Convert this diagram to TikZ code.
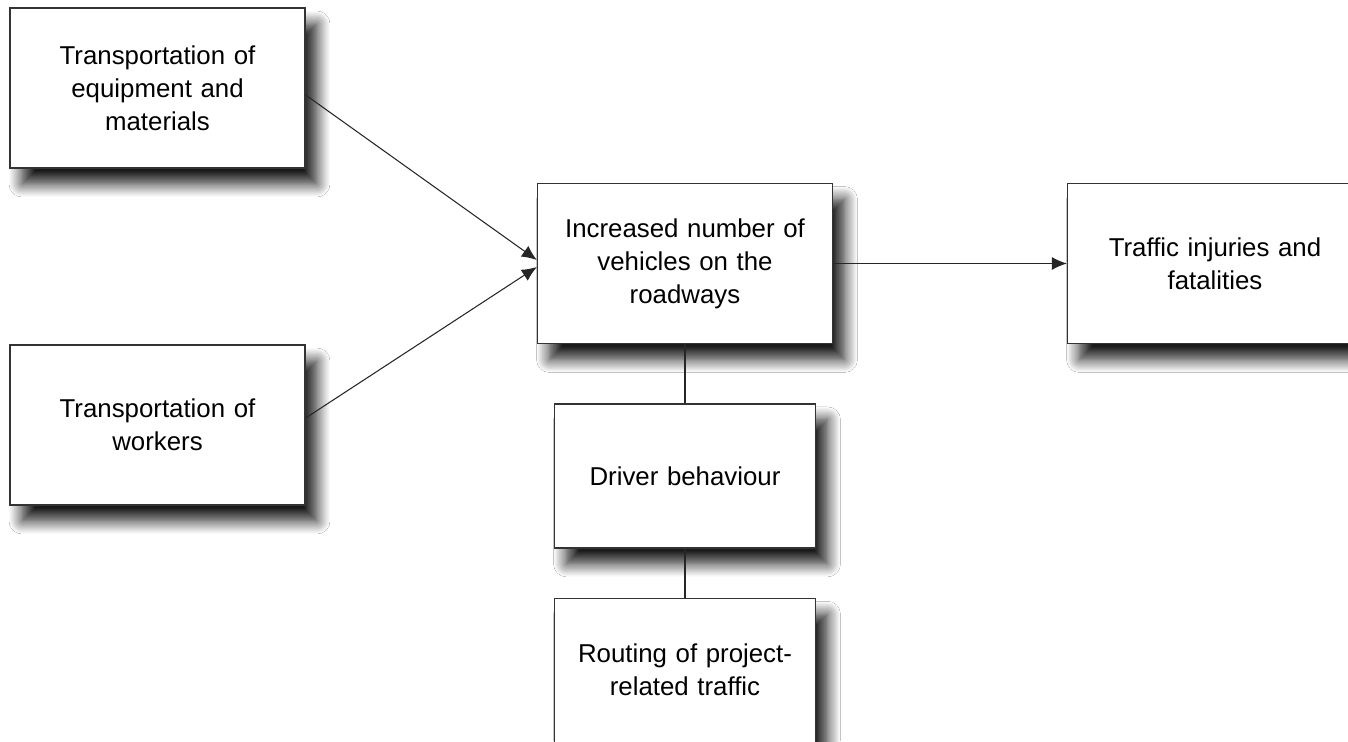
\documentclass[tikz,border=0pt]{standalone}
\usepackage{fontspec}
\setmainfont{Liberation Sans}
\usetikzlibrary{positioning}
\usetikzlibrary{arrows.meta}
\usetikzlibrary{shadows.blur}

\tikzset{
  box/.style={draw=black!80, line width=0.8pt, fill=white, align=center,
    inner sep=0pt, font=\fontsize{14.7}{18.8}\selectfont,
    blur shadow={shadow xshift=2.4mm, shadow yshift=-3.2mm,
      shadow blur radius=2.6mm, shadow blur steps=12, shadow opacity=90}},
  bigbox/.style={box, minimum width=5.9cm, minimum height=3.2cm, text width=5.2cm},
  smallbox/.style={box, minimum width=5.22cm, minimum height=2.88cm, text width=4.8cm},
  link/.style={draw=black!85, line width=0.6pt},
}

\begin{document}
\begin{tikzpicture}[x=0.02cm, y=-0.02cm]
    \fill[white] (0,0) rectangle (1348,741);
    \useasboundingbox (0,0) rectangle (1348,741);

    \node[bigbox] (equip) at (157.5,88) {Transportation of\\ equipment and\\ materials};
    \node[bigbox] (workers) at (157.5,425) {Transportation of\\ workers};
    \node[bigbox] (vehicles) at (685,263.5) {Increased number of\\ vehicles on the\\ roadways};
    \node[bigbox] (injuries) at (1215,263.5) {Traffic injuries and\\ fatalities};
    \node[smallbox, below=1.18cm of vehicles] (driver) {Driver behaviour};
    \node[smallbox, below=0.98cm of driver] (routing) {Routing of project-\\ related traffic};

    \draw[link, -{Latex[length=3mm,width=2.6mm]}] ([yshift=-4pt] equip.east) -- ([yshift=2pt] vehicles.west);
    \draw[link, -{Latex[length=3mm,width=2.6mm]}] ([yshift=4pt] workers.east) -- ([yshift=-2pt] vehicles.west);
    \draw[link, -{Latex[length=3mm,width=2.6mm]}] (vehicles) -- (injuries);
    \draw[link] (vehicles) -- (driver);
    \draw[link] (driver) -- (routing);
\end{tikzpicture}
\end{document}
